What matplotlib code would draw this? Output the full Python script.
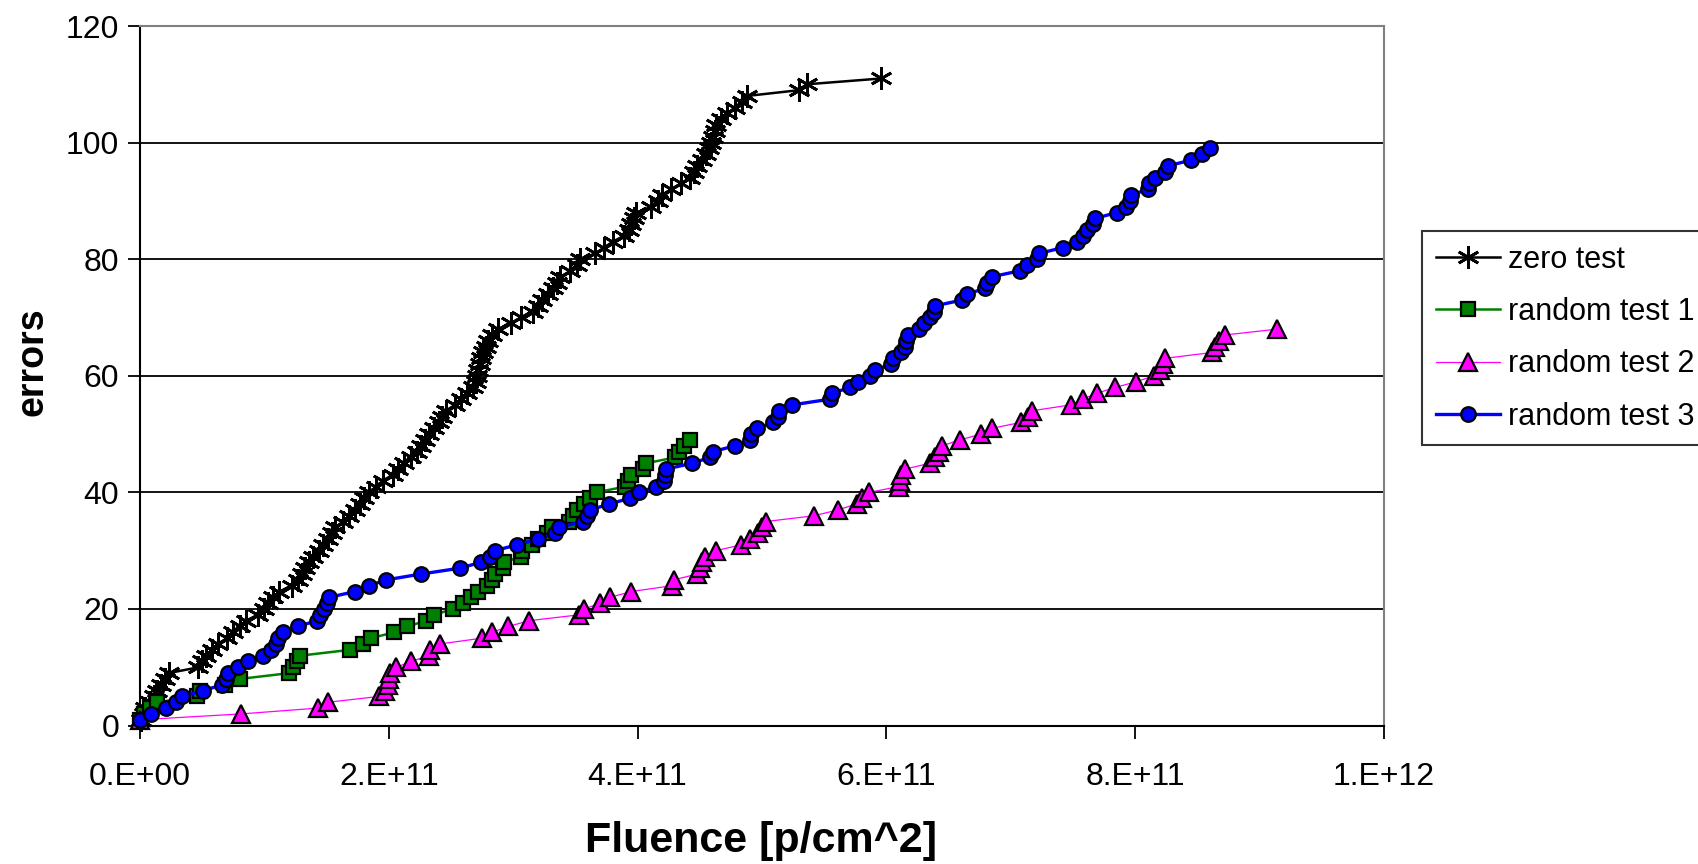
import matplotlib
matplotlib.use("Agg")
import matplotlib.pyplot as plt
from matplotlib.ticker import FixedLocator

plt.rcParams['font.family'] = ['Liberation Sans', 'DejaVu Sans']

# ---- data (fluence in units of 1e11 p/cm^2, cumulative errors) ----
zero_x = [0.01, 0.03, 0.04, 0.08, 0.11, 0.14, 0.17, 0.20, 0.23, 0.47,
          0.50, 0.53, 0.58, 0.63, 0.70, 0.75, 0.80, 0.85, 0.95, 1.00,
          1.03, 1.07, 1.12, 1.22, 1.27, 1.30, 1.33, 1.36, 1.39, 1.44,
          1.47, 1.51, 1.54, 1.57, 1.63, 1.68, 1.73, 1.77, 1.80, 1.84,
          1.90, 1.95, 2.03, 2.07, 2.12, 2.18, 2.23, 2.26, 2.29, 2.32,
          2.36, 2.40, 2.43, 2.46, 2.53, 2.58, 2.63, 2.68, 2.70, 2.71,
          2.72, 2.73, 2.74, 2.76, 2.78, 2.80, 2.83, 2.88, 2.98, 3.06,
          3.16, 3.20, 3.23, 3.28, 3.32, 3.35, 3.38, 3.46, 3.51, 3.54,
          3.66, 3.73, 3.80, 3.89, 3.93, 3.95, 3.97, 3.99, 4.11, 4.16,
          4.20, 4.27, 4.35, 4.42, 4.45, 4.48, 4.52, 4.55, 4.57, 4.59,
          4.61, 4.62, 4.63, 4.67, 4.72, 4.78, 4.84, 4.88, 5.30, 5.36,
          5.96]
zero_y = [1, 2, 3, 4, 5, 6, 7, 8, 9, 10, 11, 12, 13, 14, 15, 16, 17, 18, 19, 20,
          21, 22, 23, 24, 25, 26, 27, 28, 29, 30, 31, 32, 33, 34, 35, 36, 37, 38, 39, 40,
          41, 42, 43, 44, 45, 46, 47, 48, 49, 50, 51, 52, 53, 54, 55, 56, 57, 58, 59, 60,
          61, 62, 63, 64, 65, 66, 67, 68, 69, 70, 71, 72, 73, 74, 75, 76, 77, 78, 79, 80,
          81, 82, 83, 84, 85, 86, 87, 88, 89, 90, 91, 92, 93, 94, 95, 96, 97, 98, 99, 100,
          101, 102, 103, 104, 105, 106, 107, 108, 109, 110, 111]

r1_x = [0.00, 0.03, 0.08, 0.14, 0.46, 0.48, 0.68, 0.80, 1.20, 1.23,
        1.26, 1.29, 1.69, 1.79, 1.86, 2.04, 2.15, 2.30, 2.36, 2.52,
        2.60, 2.66, 2.72, 2.79, 2.83, 2.85, 2.92, 2.93, 3.06, 3.07,
        3.15, 3.20, 3.27, 3.31, 3.45, 3.48, 3.51, 3.57, 3.62, 3.67,
        3.90, 3.92, 3.95, 4.04, 4.07, 4.30, 4.33, 4.37, 4.42]
r1_y = [1, 2, 3, 4, 5, 6, 7, 8, 9, 10, 11, 12, 13, 14, 15, 16, 17, 18, 19, 20,
        21, 22, 23, 24, 25, 26, 27, 28, 29, 30, 31, 32, 33, 34, 35, 36, 37, 38, 39, 40,
        41, 42, 43, 44, 45, 46, 47, 48, 49]

r2_x = [0.00, 0.81, 1.43, 1.51, 1.92, 1.97, 1.99, 2.00, 2.01, 2.06,
        2.18, 2.32, 2.33, 2.41, 2.75, 2.83, 2.96, 3.13, 3.53, 3.57,
        3.70, 3.78, 3.95, 4.28, 4.29, 4.48, 4.50, 4.52, 4.54, 4.63,
        4.83, 4.90, 4.97, 5.00, 5.03, 5.42, 5.61, 5.76, 5.80, 5.86,
        6.10, 6.11, 6.12, 6.15, 6.35, 6.39, 6.42, 6.45, 6.59, 6.76,
        6.85, 7.08, 7.14, 7.17, 7.48, 7.58, 7.69, 7.84, 8.01, 8.15,
        8.20, 8.22, 8.24, 8.62, 8.64, 8.67, 8.72, 9.14]
r2_y = [1, 2, 3, 4, 5, 6, 7, 8, 9, 10, 11, 12, 13, 14, 15, 16, 17, 18, 19, 20,
        21, 22, 23, 24, 25, 26, 27, 28, 29, 30, 31, 32, 33, 34, 35, 36, 37, 38, 39, 40,
        41, 42, 43, 44, 45, 46, 47, 48, 49, 50, 51, 52, 53, 54, 55, 56, 57, 58, 59, 60,
        61, 62, 63, 64, 65, 66, 67, 68]

r3_x = [0.00, 0.09, 0.21, 0.29, 0.34, 0.51, 0.66, 0.69, 0.71, 0.79,
        0.87, 0.99, 1.05, 1.09, 1.11, 1.15, 1.27, 1.42, 1.45, 1.48,
        1.50, 1.52, 1.73, 1.84, 1.98, 2.26, 2.57, 2.74, 2.81, 2.85,
        3.03, 3.20, 3.34, 3.37, 3.56, 3.59, 3.62, 3.77, 3.94, 4.01,
        4.15, 4.21, 4.22, 4.23, 4.44, 4.58, 4.61, 4.78, 4.90, 4.91,
        4.96, 5.09, 5.13, 5.14, 5.24, 5.55, 5.56, 5.71, 5.77, 5.87,
        5.91, 6.04, 6.05, 6.12, 6.15, 6.16, 6.17, 6.26, 6.30, 6.35,
        6.38, 6.39, 6.61, 6.65, 6.79, 6.81, 6.85, 7.07, 7.13, 7.21,
        7.23, 7.42, 7.53, 7.58, 7.61, 7.66, 7.68, 7.85, 7.93, 7.96,
        7.97, 8.10, 8.11, 8.16, 8.24, 8.26, 8.45, 8.54, 8.60]
r3_y = [1, 2, 3, 4, 5, 6, 7, 8, 9, 10, 11, 12, 13, 14, 15, 16, 17, 18, 19, 20,
        21, 22, 23, 24, 25, 26, 27, 28, 29, 30, 31, 32, 33, 34, 35, 36, 37, 38, 39, 40,
        41, 42, 43, 44, 45, 46, 47, 48, 49, 50, 51, 52, 53, 54, 55, 56, 57, 58, 59, 60,
        61, 62, 63, 64, 65, 66, 67, 68, 69, 70, 71, 72, 73, 74, 75, 76, 77, 78, 79, 80,
        81, 82, 83, 84, 85, 86, 87, 88, 89, 90, 91, 92, 93, 94, 95, 96, 97, 98, 99]

x_ticks = [0, 2e11, 4e11, 6e11, 8e11, 1e12]
x_tick_labels = ["0.E+00", "2.E+11", "4.E+11", "6.E+11", "8.E+11", "1.E+12"]
y_ticks = [0, 20, 40, 60, 80, 100, 120]

labels = ["zero test", "random test 1", "random test 2", "random test 3"]

scale = 1e11

fig = plt.figure(figsize=(16.98, 8.64), dpi=100)
ax = fig.add_axes([140/1698, 1 - 725.6/864, (1384 - 140)/1698, (725.6 - 26)/864])

ax.plot([v * scale for v in zero_x], zero_y, color='black', lw=1.8,
        marker=(6, 2, 0), ms=16, mec='black', mew=2.0, label=labels[0],
        clip_on=False, zorder=3)
ax.plot([v * scale for v in r1_x], r1_y, color='#008000', lw=1.8,
        marker='s', ms=10.5, mfc='#008000', mec='black', mew=1.6,
        label=labels[1], clip_on=False, zorder=4)
ax.plot([v * scale for v in r2_x], r2_y, color='#FF00FF', lw=0.9,
        marker='^', ms=12.5, mfc='#FF00FF', mec='black', mew=1.6,
        label=labels[2], clip_on=False, zorder=5)
ax.plot([v * scale for v in r3_x], r3_y, color='#0000FF', lw=2.4,
        marker='o', ms=10.5, mfc='#0000FF', mec='black', mew=1.6,
        label=labels[3], clip_on=False, zorder=6)

ax.set_xlim(0, 1e12)
ax.set_ylim(0, 120)
ax.xaxis.set_major_locator(FixedLocator(x_ticks))
ax.set_xticklabels(x_tick_labels)
ax.yaxis.set_major_locator(FixedLocator(y_ticks))
ax.yaxis.grid(True, color='black', lw=1.3, zorder=0)
ax.set_axisbelow(True)

ax.tick_params(axis='both', direction='out', length=9, width=1.3, labelsize=23)
ax.tick_params(axis='x', pad=17)
ax.tick_params(axis='y', pad=6)

for side in ['left', 'bottom']:
    ax.spines[side].set_color('black')
    ax.spines[side].set_linewidth(1.5)
for side in ['top', 'right']:
    ax.spines[side].set_color('#808080')
    ax.spines[side].set_linewidth(1.5)

fig.text(761/1698, 1 - 841/864, "Fluence [p/cm^2]", fontsize=31,
         fontweight='bold', ha='center', va='center')
fig.text(33/1698, 1 - 362/864, "errors", fontsize=27, fontweight='bold',
         rotation=90, ha='center', va='center')

leg = ax.legend(loc='upper left', bbox_to_anchor=(1422/1698, 1 - 231/864),
                bbox_transform=fig.transFigure, fontsize=22, frameon=True,
                fancybox=False, edgecolor='black', borderpad=0.45,
                handlelength=2.1, handletextpad=0.28, labelspacing=0.73,
                borderaxespad=0)
leg.get_frame().set_linewidth(1.5)

fig.savefig("out.png", dpi=100, facecolor='white')
